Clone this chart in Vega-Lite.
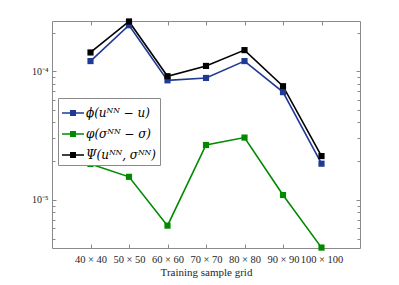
{
  "$schema": "https://vega.github.io/schema/vega-lite/v6.json",
  "width": 308,
  "height": 227,
  "autosize": "none",
  "padding": {"left": 52, "top": 21, "right": 39, "bottom": 37},
  "background": "white",
  "config": {
    "view": {"stroke": "#8a8a8a", "strokeWidth": 1},
    "font": "Liberation Serif",
    "axis": {"domain": false, "grid": false, "tickColor": "#8a8a8a", "labelColor": "#262626", "titleColor": "#262626", "labelFont": "Liberation Serif", "titleFont": "Liberation Serif", "titleFontWeight": "normal"}
  },
  "data": {
    "values": [
      {"grid": 40, "series": "ϕ(uᴺᴺ − u)", "value": 1.20e-4},
      {"grid": 50, "series": "ϕ(uᴺᴺ − u)", "value": 2.28e-4},
      {"grid": 60, "series": "ϕ(uᴺᴺ − u)", "value": 8.5e-5},
      {"grid": 70, "series": "ϕ(uᴺᴺ − u)", "value": 8.87e-5},
      {"grid": 80, "series": "ϕ(uᴺᴺ − u)", "value": 1.20e-4},
      {"grid": 90, "series": "ϕ(uᴺᴺ − u)", "value": 6.88e-5},
      {"grid": 100, "series": "ϕ(uᴺᴺ − u)", "value": 1.91e-5},
      {"grid": 40, "series": "φ(σᴺᴺ − σ)", "value": 1.90e-5},
      {"grid": 50, "series": "φ(σᴺᴺ − σ)", "value": 1.51e-5},
      {"grid": 60, "series": "φ(σᴺᴺ − σ)", "value": 6.3e-6},
      {"grid": 70, "series": "φ(σᴺᴺ − σ)", "value": 2.67e-5},
      {"grid": 80, "series": "φ(σᴺᴺ − σ)", "value": 3.05e-5},
      {"grid": 90, "series": "φ(σᴺᴺ − σ)", "value": 1.09e-5},
      {"grid": 100, "series": "φ(σᴺᴺ − σ)", "value": 4.25e-6},
      {"grid": 40, "series": "Ψ(uᴺᴺ, σᴺᴺ)", "value": 1.40e-4},
      {"grid": 50, "series": "Ψ(uᴺᴺ, σᴺᴺ)", "value": 2.44e-4},
      {"grid": 60, "series": "Ψ(uᴺᴺ, σᴺᴺ)", "value": 9.15e-5},
      {"grid": 70, "series": "Ψ(uᴺᴺ, σᴺᴺ)", "value": 1.10e-4},
      {"grid": 80, "series": "Ψ(uᴺᴺ, σᴺᴺ)", "value": 1.46e-4},
      {"grid": 90, "series": "Ψ(uᴺᴺ, σᴺᴺ)", "value": 7.65e-5},
      {"grid": 100, "series": "Ψ(uᴺᴺ, σᴺᴺ)", "value": 2.19e-5}
    ]
  },
  "resolve": {"axis": {"x": "independent", "y": "independent"}},
  "layer": [
    {
      "mark": {"type": "line", "strokeWidth": 1.6, "clip": false},
      "encoding": {
        "x": {"field": "grid", "type": "quantitative", "scale": {"domain": [30, 110], "nice": false, "zero": false},
          "axis": {"orient": "bottom", "values": [40, 50, 60, 70, 80, 90, 100], "tickSize": -4, "labelPadding": 10, "labelFontSize": 10.5, "labelOverlap": false, "labelBound": false, "labelExpr": "datum.value + ' × ' + datum.value", "title": "Training sample grid", "titleFontSize": 11, "titlePadding": 2}},
        "y": {"field": "value", "type": "quantitative", "scale": {"type": "log", "domain": [4.22e-6, 2.46e-4], "nice": false},
          "axis": {"orient": "left", "values": [1e-5, 1e-4], "tickSize": -4, "labelPadding": 8, "labelFontSize": 10, "labelExpr": "datum.value < 5e-5 ? '10⁻⁵' : '10⁻⁴'", "title": null}},
        "color": {"field": "series", "type": "nominal",
          "scale": {"domain": ["ϕ(uᴺᴺ − u)", "φ(σᴺᴺ − σ)", "Ψ(uᴺᴺ, σᴺᴺ)"], "range": ["#1f3a96", "#008a00", "#000000"]},
          "legend": {"orient": "none", "legendX": 6, "legendY": 77, "title": null, "strokeColor": "#8a8a8a", "fillColor": "white", "padding": 4,
            "symbolType": "M-1,-0.07H1V0.07H-1Z M-0.27,-0.27H0.27V0.27H-0.27Z", "symbolSize": 484, "symbolStrokeWidth": 0,
            "labelFont": "DejaVu Serif", "labelFontSize": 12, "labelFontStyle": "italic", "labelColor": "#000", "rowPadding": 4, "labelOffset": 2,
            "encode": {"symbols": {"update": {"fill": {"scale": "color", "field": "value"}, "strokeWidth": {"value": 0}}}}}}
      }
    },
    {
      "mark": {"type": "point", "shape": "square", "filled": true, "size": 38, "opacity": 1, "clip": false},
      "encoding": {
        "x": {"field": "grid", "type": "quantitative", "axis": {"orient": "top", "values": [40, 50, 60, 70, 80, 90, 100], "tickSize": -4, "labels": false, "title": null}},
        "y": {"field": "value", "type": "quantitative", "axis": {"orient": "left", "values": [5e-6, 6e-6, 7e-6, 8e-6, 9e-6, 2e-5, 3e-5, 4e-5, 5e-5, 6e-5, 7e-5, 8e-5, 9e-5, 2e-4], "tickSize": -3, "labels": false, "title": null}},
        "color": {"field": "series", "type": "nominal", "legend": null}
      }
    },
    {
      "mark": {"type": "point", "opacity": 0},
      "encoding": {
        "x": {"field": "grid", "type": "quantitative", "axis": null},
        "y": {"field": "value", "type": "quantitative", "axis": {"orient": "right", "values": [1e-5, 1e-4], "tickSize": -4, "labels": false, "title": null}}
      }
    },
    {
      "mark": {"type": "point", "opacity": 0},
      "encoding": {
        "x": {"field": "grid", "type": "quantitative", "axis": null},
        "y": {"field": "value", "type": "quantitative", "axis": {"orient": "right", "values": [5e-6, 6e-6, 7e-6, 8e-6, 9e-6, 2e-5, 3e-5, 4e-5, 5e-5, 6e-5, 7e-5, 8e-5, 9e-5, 2e-4], "tickSize": -3, "labels": false, "title": null}}
      }
    }
  ]
}
